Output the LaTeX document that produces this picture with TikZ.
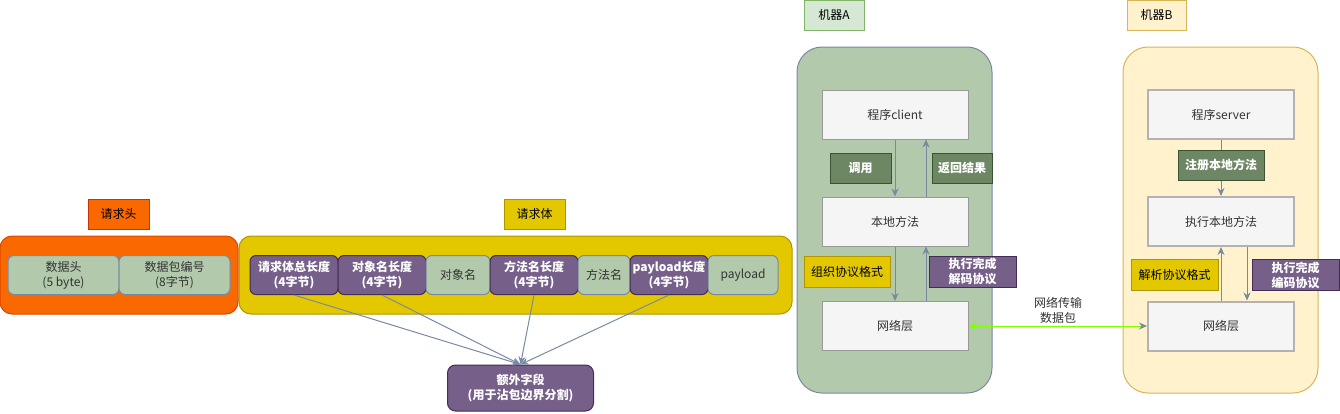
\documentclass[tikz,border=0pt]{standalone}
\usepackage{fontspec}
\setmainfont{Noto Sans CJK SC}
\usetikzlibrary{arrows.meta}

\definecolor{orangeF}{HTML}{FA6800}
\definecolor{orangeD}{HTML}{C73500}
\definecolor{yellowF}{HTML}{E3C800}
\definecolor{yellowD}{HTML}{B09500}
\definecolor{sageF}{HTML}{B2C9AB}
\definecolor{slate}{HTML}{788AA3}
\definecolor{purpleF}{HTML}{76608A}
\definecolor{purpleD}{HTML}{432D57}
\definecolor{mossF}{HTML}{6D8764}
\definecolor{mossD}{HTML}{3A5431}
\definecolor{mintF}{HTML}{D5E8D4}
\definecolor{mintD}{HTML}{82B366}
\definecolor{creamF}{HTML}{FFF2CC}
\definecolor{creamD}{HTML}{D6B656}
\definecolor{paleF}{HTML}{F5F5F5}
\definecolor{inkgray}{HTML}{333333}
\definecolor{wire}{HTML}{80FF00}

\tikzset{
  every node/.style={font=\fontsize{12}{15}\selectfont, inner sep=0pt, align=center},
  tag/.style={draw, line width=1pt, minimum height=30},
  holder/.style={draw, line width=1pt, rounded corners=12pt, minimum height=78},
  sagefield/.style={draw=slate, fill=sageF, text=inkgray, line width=1pt,
    rounded corners=6pt, minimum height=39},
  lenfield/.style={draw=purpleD, fill=purpleF, text=white, line width=1pt,
    rounded corners=6pt, minimum height=39, font=\fontsize{12}{15}\selectfont\bfseries},
  host/.style={draw, line width=1pt, rounded corners=25pt, minimum width=195, minimum height=346},
  layer/.style={draw=gray!80, fill=paleF, text=inkgray, line width=1pt,
    minimum width=146, minimum height=49},
  mossnote/.style={draw=mossD, fill=mossF, text=white, line width=1pt, minimum height=30,
    font=\fontsize{12}{15}\selectfont\bfseries},
  yellownote/.style={draw=yellowD, fill=yellowF, line width=1pt, minimum height=31},
  purplenote/.style={draw=purpleD, fill=purpleF, text=white, line width=1pt, minimum height=31,
    font=\fontsize{12}{15}\selectfont\bfseries},
  flow/.style={slate, line width=1pt, -{Stealth[length=8pt, width=7pt]}},
}

\begin{document}
\begin{tikzpicture}[x=1pt, y=-1pt]
  \useasboundingbox (0,0) rectangle (1340,413);

  % request header
  \node[tag, fill=orangeF, draw=orangeD, minimum width=61] (headtag) at (118.5,214) {请求头};
  \node[holder, fill=orangeF, draw=orangeD!60!orangeF, minimum width=238] (headbox) at (119,275) {};
  \node[sagefield, minimum width=111] (magic) at (63.5,275) {数据头\\(5 byte)};
  \node[sagefield, minimum width=111] (seqno) at (174.5,275) {数据包编号\\(8字节)};

  % request body
  \node[tag, fill=yellowF, draw=yellowD, minimum width=61] (bodytag) at (534.5,214) {请求体};
  \node[holder, fill=yellowF, draw=yellowD, minimum width=553] (bodybox) at (515.5,275) {};
  \node[lenfield, minimum width=88] (totlen) at (294,275) {请求体总长度\\(4字节)};
  \node[lenfield, minimum width=88] (objlen) at (382,275) {对象名长度\\(4字节)};
  \node[sagefield, minimum width=64] (objname) at (458,275) {对象名};
  \node[lenfield, minimum width=88] (methlen) at (534,275) {方法名长度\\(4字节)};
  \node[sagefield, minimum width=52] (methname) at (604,275) {方法名};
  \node[lenfield, minimum width=78] (paylen) at (669,275) {payload长度\\(4字节)};
  \node[sagefield, minimum width=70] (payload) at (743,275) {payload};

  % extra fields
  \node[lenfield, minimum width=146, minimum height=46, rounded corners=8pt] (extra) at (520.5,388)
    {额外字段\\(用于沾包边界分割)};
  \foreach \src in {totlen, objlen, methlen, paylen}
    \draw[flow] (\src.south) -- (extra.north);

  % machine A
  \node[tag, fill=mintF, draw=mintD, minimum width=60] (tagA) at (834,15) {机器A};
  \node[host, fill=sageF, draw=slate] (hostA) at (894.5,220) {};
  \node[layer] (client) at (895,114.5) {程序client};
  \node[layer] (localA) at (895,221.5) {本地方法};
  \node[layer] (netA) at (895,326) {网络层};
  \draw[flow] (client.south) -- (localA.north);
  \draw[flow] ([xshift=31pt]localA.north) -- ([xshift=31pt]client.south);
  \draw[flow] (localA.south) -- (netA.north);
  \draw[flow] ([xshift=31pt]netA.north) -- ([xshift=31pt]localA.south);
  \node[mossnote, minimum width=61] (callA) at (860.5,168) {调用};
  \node[mossnote, minimum width=60] (retA) at (962,168) {返回结果};
  \node[yellownote, minimum width=86] (fmtA) at (847,271.5) {组织协议格式};
  \node[purplenote, minimum width=87] (decA) at (972.5,271.5) {执行完成\\解码协议};

  % machine B
  \node[tag, fill=creamF, draw=creamD, minimum width=59] (tagB) at (1156.5,15) {机器B};
  \node[host, fill=creamF, draw=creamD] (hostB) at (1220.5,220) {};
  \node[layer, draw=gray!60, line width=2pt] (server) at (1221,114.5) {程序server};
  \node[layer, draw=gray!60, line width=2pt] (localB) at (1221,221.5) {执行本地方法};
  \node[layer, draw=gray!60, line width=2pt] (netB) at (1221,326) {网络层};
  \draw[flow] (server.south) -- (localB.north);
  \node[mossnote, minimum width=86] (regB) at (1221,165) {注册本地方法};
  \draw[flow] (netB.north) -- (localB.south);
  \draw[flow] ([xshift=26pt]localB.south) -- ([xshift=26pt]netB.north);
  \node[yellownote, minimum width=87] (parseB) at (1174.5,275) {解析协议格式};
  \node[purplenote, minimum width=87] (encB) at (1295.5,275) {执行完成\\编码协议};

  % network link
  \draw[wire, line width=1pt, {Stealth[length=8pt, width=7pt]}-{Stealth[length=8pt, width=7pt, slate]}]
    (netA.east) -- (netB.west);
  \node[text=inkgray] (netlbl) at (1058,310) {网络传输\\数据包};

\end{tikzpicture}
\end{document}
